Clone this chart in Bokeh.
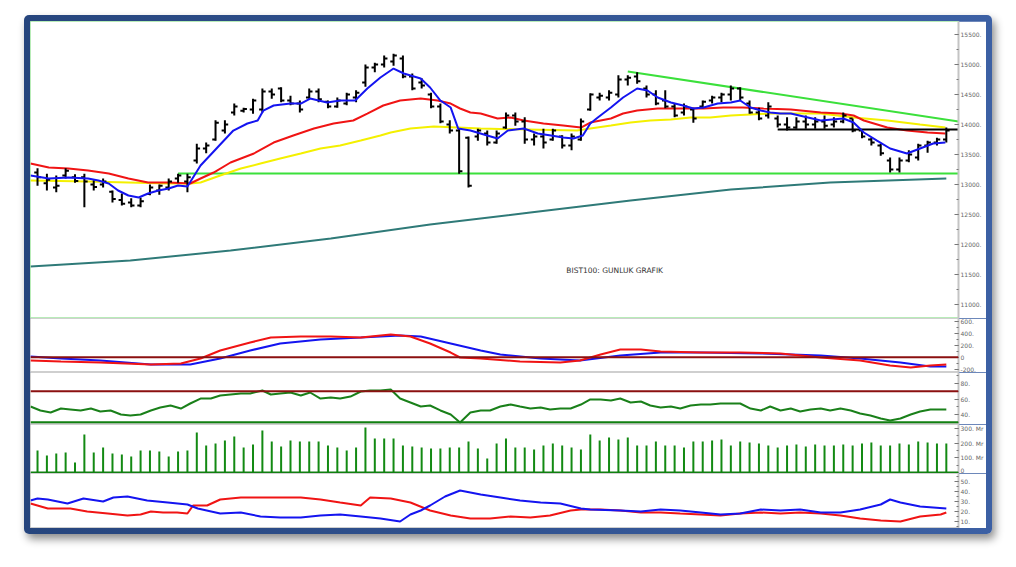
from bokeh.plotting import figure
from bokeh.layouts import column
from bokeh.models import Range1d, FixedTicker, Label, Span, CustomJSTickFormatter
from bokeh.embed import file_html
from bokeh.resources import INLINE

# ---------------- data ----------------
opens = [13200,13020,12950,13150,13120,13120,13000,13000,12880,12740,
 12700,12650,12840,12900,12950,13100,13050,13400,13600,13750,
 13900,14200,14230,14250,14250,14550,14600,14400,14350,14450,
 14550,14380,14300,14350,14450,14700,14950,15000,15050,15100,
 14800,14700,14500,14300,14000,13900,13780,13800,13850,13700,
 13950,14150,14050,13750,13800,13750,13800,13650,13750,14250,
 14450,14450,14500,14750,14800,14600,14500,14400,14300,14200,
 14250,14300,14400,14450,14500,14600,14350,14200,14150,14100,
 14000,13950,14050,14000,14050,14000,14050,14100,13900,13750,
 13650,13400,13250,13400,13450,13650,13700,13750]
highs = [13270,13180,13150,13270,13170,13180,13070,13100,12900,12850,
 12770,12780,13000,13000,13100,13180,13180,13680,13700,14070,
 14070,14350,14280,14430,14600,14600,14620,14480,14400,14600,
 14600,14400,14450,14530,14570,15000,15030,15150,15180,15150,
 14850,14770,14530,14350,14070,13930,13800,13930,13900,13900,
 14200,14200,14120,13850,13930,13930,13820,13850,14100,14520,
 14530,14570,14820,14820,14870,14650,14570,14570,14350,14350,
 14280,14400,14480,14530,14650,14620,14400,14280,14370,14150,
 14120,14120,14150,14120,14150,14120,14200,14100,13900,13780,
 13680,13450,13450,13570,13680,13730,13780,13950]
lows = [12980,12900,12870,13100,13030,12620,12900,12950,12700,12650,
 12620,12620,12820,12830,12900,13030,12870,13350,13520,13730,
 13850,14150,14200,14180,14200,14430,14370,14320,14200,14430,
 14370,14270,14280,14320,14370,14630,14870,14950,14980,14770,
 14570,14600,14270,14020,13850,13180,12950,13730,13650,13680,
 13930,13980,13680,13650,13600,13730,13600,13570,13730,14230,
 14400,14400,14450,14650,14680,14450,14320,14270,14120,14150,
 14030,14270,14350,14370,14400,14400,14180,14070,14100,13950,
 13900,13930,13930,13930,13930,13950,14020,13870,13770,13650,
 13480,13200,13200,13370,13400,13530,13650,13700]
closes = [13120,13080,12980,13230,13060,13050,12960,13050,12760,12680,
 12650,12720,12950,12980,13050,13150,13120,13600,13650,14030,
 14000,14300,14260,14400,14550,14500,14400,14350,14250,14550,
 14420,14300,14400,14500,14530,14950,15000,15100,15150,14800,
 14600,14650,14300,14050,13900,13220,12980,13900,13700,13850,
 14150,14050,13750,13800,13700,13900,13650,13800,14050,14500,
 14480,14530,14750,14780,14720,14500,14350,14300,14150,14300,
 14100,14380,14450,14500,14600,14450,14200,14100,14300,14000,
 13950,14050,14000,14050,13980,14050,14150,13900,13800,13700,
 13520,13250,13400,13500,13650,13700,13750,13900]
volume = [150,116,129,136,68,258,136,170,129,122,
 109,150,150,143,109,143,150,272,184,197,
 218,245,170,190,286,211,177,218,211,211,
 211,184,170,150,170,306,231,231,231,184,
 177,170,163,163,170,170,211,163,95,197,
 231,170,170,156,184,197,184,170,156,258,
 218,238,224,238,184,184,211,184,184,170,
 211,211,218,224,184,211,204,197,184,170,
 184,190,177,190,184,184,190,184,197,204,
 184,184,197,190,211,204,197,197]

ma_fast_x = [-0.75,1.2,3.3,5.4,6.5,7.6,8.6,9.7,10.8,11.8,12.9,14,15,16,17.4,19.2,20.9,22.4,23.5,24.1,
 25.2,27,28.1,29.1,30.9,32.3,33.9,35.2,36.6,38,39.1,40.9,41.9,43,44.1,44.9,46.2,48,49.1,50.2,
 51.9,53.4,54.8,56.1,57.2,58.2,59,59.8,61.2,62.5,64,65.1,66.2,67.6,68.9,70,71.1,72.6,74,75,
 76.1,77.2,78.2,79.3,80.4,83.6,86,87.1,88.2,89.6,91,92.8,94.2,95.6,96.9]
ma_fast = [13150,13100,13117,13100,13067,13017,12900,12817,12783,12850,12900,12933,12983,12967,13317,13617,13900,14017,14067,14233,
 14317,14350,14350,14433,14367,14400,14400,14600,14783,14933,14850,14767,14617,14400,14283,13933,13900,13817,13767,13900,
 13933,13850,13817,13783,13767,13817,14017,14117,14283,14450,14600,14567,14450,14367,14317,14267,14283,14350,14367,14400,
 14283,14233,14200,14183,14183,14067,14100,14033,13867,13733,13600,13517,13600,13683,13700]
ma_mid_x = [-0.75,1.2,3.3,5.4,7.6,9.7,11.8,14,16.3,17.4,18.8,20.6,23.1,25.2,27.3,29.5,31.6,33.7,35.2,36.9,
 38.7,40.9,42.7,44.1,45.1,46.2,47.3,49.1,50.5,51.9,54,56.1,58,59,61.2,62.5,64,66.2,68.6,71.1,
 73.2,75.3,77.5,80.4,83.6,85.7,87.1,88.2,90.7,92.8,95,96.9]
ma_mid = [13350,13283,13267,13233,13183,13100,13033,13033,13017,13100,13200,13367,13517,13700,13817,13933,14017,14067,14183,14317,
 14400,14433,14400,14350,14267,14200,14183,14100,14117,14067,14017,13983,13950,14033,14100,14183,14233,14267,14267,14267,
 14283,14283,14267,14250,14200,14183,14150,14067,13950,13900,13867,13850]
ma_slow_x = [-0.75,5.4,9.7,14,16.3,17.4,19.5,21.7,23.8,25.9,28.1,30.2,32.3,34.5,36.6,37.7,39.8,42.3,44.8,47.3,
 52.3,57.6,59,61.2,63.3,65.4,67.6,69.7,71.8,74,76.1,78.2,80.4,83.6,87.1,90.7,94.2,96.9]
ma_slow = [13067,13050,13033,13017,13017,13033,13150,13267,13350,13433,13517,13600,13650,13733,13817,13867,13933,13967,13950,13933,
 13917,13900,13933,13983,14033,14067,14083,14117,14117,14150,14167,14183,14183,14183,14117,14067,14000,13950]
ma_long_x = [-0.75,9.9,20.6,31.3,41.9,52.6,63.3,74,84.6,97]
ma_long = [11633,11733,11900,12100,12333,12533,12733,12917,13033,13100]

support_x = [15, 98.3]
support = [13183, 13183]
resist_x = [79, 98.3]
resist = [13917, 13917]
trend_x = [63, 98.3]
trend = [14883, 14050]

macd_x = [-0.75,2.5,6.7,12.1,15.3,17.4,19.5,22.7,24.9,28.1,31.3,34.5,37.7,39.8,41.9,44.1,45.1,47.3,51.5,55.8,
 57.9,60.1,62.2,64.4,66.5,70.8,75,79.3,83.6,87.8,91,93.2,95.3,97]
macd = [-55,-72,-88,-122,-105,-22,112,245,328,345,345,328,378,345,228,78,-5,-22,-72,-88,
 -55,45,128,128,95,78,78,62,-5,-55,-138,-172,-138,-122]
signal_x = [-0.75,2.5,6.7,12.1,16.3,19.5,22.7,25.9,30.2,34.5,38.7,40.9,44.1,47.3,49.4,53.7,57.9,62.2,66.5,70.8,
 77.2,83.6,87.8,92.1,95.3,97]
signal = [12,-22,-55,-122,-122,-22,112,228,295,328,362,345,228,112,45,-22,-55,28,78,78,
 62,28,-22,-88,-155,-155]

rsi_x = [-0.75,0.3,1.4,2.5,3.5,4.6,5.7,6.7,7.8,8.9,9.9,11,12.1,13.1,14.2,15.3,16.3,17.4,18.5,19.5,
 20.6,21.7,22.7,24,24.9,25.9,27,28.1,29.1,30.2,31.3,32.3,33.4,34.5,35.5,36.6,37.7,38.7,39.8,40.9,
 41.9,43,44.1,45.1,46.2,47.3,48.3,49.4,50.5,51.5,52.6,53.7,54.7,55.8,56.9,58,59,60.1,61.2,62.2,
 63.3,64.4,65.4,66.5,67.6,68.6,69.7,70.8,71.8,72.9,75,76.1,77.2,78.2,79.3,80.4,81.4,82.5,83.6,84.6,
 85.7,86.8,87.8,88.9,90,91,92.1,93.2,94.2,95.3,97]
rsi = [50.3,45.2,42.6,47.7,46.5,45.2,47.7,43.9,45.2,40,38.7,40,45.2,49,51.6,47.7,54.2,60.6,60.6,64.5,
 65.8,67.1,67.1,71,65.8,67.1,68.4,64.5,68.4,60.6,61.9,60.6,63.2,69.7,71,71,72.3,60.6,55.5,50.3,
 51.6,45.2,40,29.7,42.6,45.2,45.2,50.3,52.9,50.3,47.7,49,46.5,47.7,47.7,52.9,59.4,59.4,58.1,60.6,
 55.5,56.8,51.6,49,50.3,47.7,51.6,52.9,52.9,54.2,54.2,47.7,45.2,50.3,45.2,47.7,43.9,46.5,47.7,45.2,
 47.7,45.2,41.3,38.7,34.8,32.3,34.8,40,43.9,46.5,46.5]

di_plus_x = [-0.75,0,1.1,3.2,4.9,7,8.1,9.6,11.7,13.9,16,17.1,19.5,21.7,23.8,25.9,28.1,30.2,32.3,34.5,
 36.6,38.7,39.8,40.9,41.9,43.5,45.1,46.2,47.3,49.4,51.5,53.7,55.8,58,59,62.2,64.4,66.5,68.6,70.8,
 72.9,75,77.2,79.3,81.4,83.6,85.7,87.8,90,91,92.1,94.2,97]
di_plus = [31,33,32,28,33,30,34,35,31,29,27,23,18,19,15,14,14,16,17,15,
 13,10,17,21,26,35,41,39,37,34,31,29,28,23,22,21,20,22,21,19,
 17,18,22,21,22,19,19,22,27,32,29,25,23]
di_minus_x = [-0.75,1.1,3.5,5.3,7.5,9.6,11,12.1,13.4,14.9,16,16.6,18.1,19.5,21.7,23.8,25.9,28.1,30.2,32.3,
 34.5,35.5,37.7,39.8,41.9,44.1,46.2,48.3,50.5,52.6,54.7,56.9,58,60.1,62.2,64.4,66.5,68.6,70.8,72.9,
 75,77.2,79.3,81.4,83.6,85.7,87.8,90,92.1,94.2,96.4,97]
di_minus = [28,23,23,20,18,16,17,20,19,19,18,26,26,32,34,34,34,34,32,29,
 26,34,33,29,21,16,13,13,15,14,16,21,22,22,21,19,19,18,17,16,
 18,19,18,19,18,16,13,11,10,15,17,19]

title_text = "BIST100: GUNLUK GRAFIK"

# ---------------- figures ----------------
N = len(closes)
idx = list(range(N))
xr = Range1d(-0.75, 98.3)
TICK_FONT = "DejaVu Sans"


def make_fig(h, y0, y1, ticks, minor, suffix, outline="#cfcfcf"):
    p = figure(width=956, height=h, x_range=xr, y_range=Range1d(y0, y1),
               output_backend="svg", toolbar_location=None,
               x_axis_location=None, y_axis_location="right",
               min_border_left=0, min_border_right=28, min_border_top=0, min_border_bottom=0)
    p.grid.visible = False
    p.outline_line_color = outline
    p.outline_line_width = 1
    p.background_fill_color = "white"
    p.border_fill_color = "white"
    ax = p.yaxis[0]
    ax.ticker = FixedTicker(ticks=ticks, minor_ticks=minor)
    ax.formatter = CustomJSTickFormatter(code="return tick == 0 ? '0' : tick + '." + suffix + "';")
    ax.axis_line_color = "#c4c4c4"
    ax.axis_line_width = 2
    ax.major_tick_in = 4
    ax.major_tick_out = 0
    ax.minor_tick_in = 2
    ax.minor_tick_out = 0
    ax.major_tick_line_color = "#777777"
    ax.minor_tick_line_color = "#777777"
    ax.major_label_standoff = 2
    ax.major_label_text_font = TICK_FONT
    ax.major_label_text_font_size = "6px"
    ax.major_label_text_color = "#666666"
    return p


# main price panel
p1 = make_fig(297, 10767, 15717,
              [11000, 11500, 12000, 12500, 13000, 13500, 14000, 14500, 15000, 15500],
              [10750 + 250 * k for k in range(20)], "", outline="#b8ecb8")
p1.line(ma_long_x, ma_long, line_color="#2f7a78", line_width=2)
p1.line(support_x, support, line_color="#3be03b", line_width=2)
p1.line(trend_x, trend, line_color="#3be03b", line_width=2)
p1.line(ma_slow_x, ma_slow, line_color="#f4f000", line_width=2)
p1.line(ma_mid_x, ma_mid, line_color="#f01414", line_width=2)
p1.line(resist_x, resist, line_color="#000000", line_width=2)
p1.segment(x0=idx, y0=lows, x1=idx, y1=highs, line_color="black", line_width=2)
p1.segment(x0=[i - 0.35 for i in idx], y0=opens, x1=idx, y1=opens, line_color="black", line_width=2)
p1.segment(x0=idx, y0=closes, x1=[i + 0.35 for i in idx], y1=closes, line_color="black", line_width=2)
p1.line(ma_fast_x, ma_fast, line_color="#1414f0", line_width=2)
p1.add_layout(Label(x=61.6, y=11567, text=title_text, text_font=TICK_FONT, text_font_size="7.5px",
                    text_color="#333333", text_align="center", text_baseline="middle"))

# MACD panel
p2 = make_fig(54, -255, 645, [-200, 0, 200, 400, 600], [-200 + 100 * k for k in range(9)], "")
p2.add_layout(Span(location=0, dimension="width", line_color="#8b1010", line_width=2))
p2.line(signal_x, signal, line_color="#1414f0", line_width=2)
p2.line(macd_x, macd, line_color="#f01414", line_width=2)

# RSI panel
p3 = make_fig(52, 27.1, 94.2, [40, 60, 80], [30, 40, 50, 60, 70, 80, 90], "")
p3.add_layout(Span(location=70, dimension="width", line_color="#8b1010", line_width=2))
p3.add_layout(Span(location=30, dimension="width", line_color="#108010", line_width=2))
p3.line(rsi_x, rsi, line_color="#1a801a", line_width=2)

# Volume panel
p4 = make_fig(49, -7, 326, [0, 100, 200, 300], [50 * k for k in range(7)], " Mr")
p4.add_layout(Span(location=0, dimension="width", line_color="#108010", line_width=2))
p4.segment(x0=idx, y0=[0] * N, x1=idx, y1=volume, line_color="#138a13", line_width=2)

# DMI panel
p5 = make_fig(55, 3, 58, [10, 20, 30, 40, 50], [5 * k for k in range(1, 12)], "")
p5.line(di_minus_x, di_minus, line_color="#f01414", line_width=2)
p5.line(di_plus_x, di_plus, line_color="#1414f0", line_width=2)

layout = column(p1, p2, p3, p4, p5, spacing=0, margin=(15, 0, 0, 24),
                styles={"padding": "6px",
                        "background": "linear-gradient(90deg, #26457d, #3c60a4)",
                        "border-radius": "5px",
                        "box-shadow": "3px 5px 9px rgba(0,0,0,0.45)"})

open("out.html", "w").write(file_html(layout, INLINE))
